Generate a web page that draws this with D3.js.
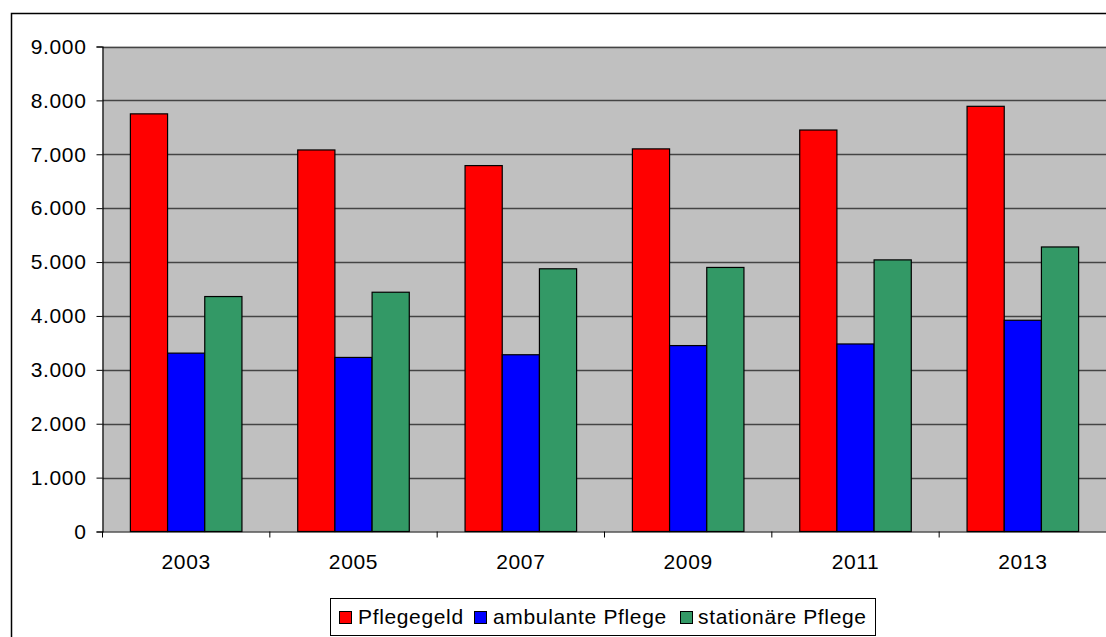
<!DOCTYPE html>
<html>
<head>
<meta charset="utf-8">
<script src="https://cdn.jsdelivr.net/npm/d3@7"></script>
<style>
  html, body { margin: 0; padding: 0; background: #fff; }
  svg { display: block; font-family: "Liberation Sans", Arial, sans-serif; }
</style>
</head>
<body>
<svg id="chart" width="1106" height="637"></svg>
<script>
// Leistungsempfänger nach Leistungsart
const years = ["2003", "2005", "2007", "2009", "2011", "2013"];
const seriesNames = ["Pflegegeld", "ambulante Pflege", "stationäre Pflege"];
const pflegegeld = [7750, 7080, 6790, 7100, 7450, 7890];
const ambulant = [3310, 3230, 3280, 3450, 3480, 3920];
const stationaer = [4360, 4440, 4875, 4900, 5040, 5280];
const seriesColors = ["#ff0000", "#0000ff", "#339966"];
const yTicks = [0, 1000, 2000, 3000, 4000, 5000, 6000, 7000, 8000, 9000];

const seriesValues = [pflegegeld, ambulant, stationaer];
const svg = d3.select("#chart");
const FONT = "Liberation Sans, Arial, sans-serif";
const FS = 21;
const LS = "0.65px";

// outer chart frame
svg.append("rect")
  .attr("x", 11.5).attr("y", 13.5)
  .attr("width", 1110).attr("height", 640)
  .attr("fill", "#fff").attr("stroke", "#000").attr("stroke-width", 1.5);

const plot = { left: 102.5, right: 1106.5, top: 46.5, bottom: 531.5 };

const x = d3.scaleBand().domain(years).range([plot.left, plot.right]).paddingInner(0).paddingOuter(0);
const barW = x.bandwidth() / 4.5; // gap width 150 %
const y = d3.scaleLinear().domain([0, 9000]).range([plot.bottom, plot.top]);

// plot area
svg.append("rect")
  .attr("x", plot.left).attr("y", plot.top)
  .attr("width", plot.right - plot.left).attr("height", plot.bottom - plot.top)
  .attr("fill", "#c0c0c0");

// horizontal gridlines
svg.append("g").selectAll("line").data(yTicks.filter(d => d > 0)).join("line")
  .attr("x1", plot.left).attr("x2", plot.right)
  .attr("y1", d => Math.round(y(d)) + 0.5).attr("y2", d => Math.round(y(d)) + 0.5)
  .attr("stroke", "#444").attr("stroke-width", 1.3);

// bars
const groups = svg.append("g").selectAll("g").data(years).join("g")
  .attr("transform", d => `translate(${x(d) + 0.75 * barW},0)`);

groups.selectAll("rect")
  .data((yr, i) => seriesValues.map((vals, s) => ({ s, v: vals[i] })))
  .join("rect")
  .attr("x", d => d.s * barW)
  .attr("y", d => y(d.v))
  .attr("width", barW)
  .attr("height", d => y(0) - y(d.v))
  .attr("fill", d => seriesColors[d.s])
  .attr("stroke", "#000").attr("stroke-width", 1.2);

// y axis
const yAxis = d3.axisLeft(y).tickValues(yTicks).tickSize(6).tickPadding(10)
  .tickFormat(d => d3.format(",")(d).replace(/,/g, "."));
const gy = svg.append("g").attr("transform", `translate(${plot.left},0)`).call(yAxis);
gy.select(".domain").attr("stroke", "#000").attr("stroke-width", 1.2);
gy.selectAll(".tick line").attr("stroke", "#000");
gy.selectAll(".tick text").attr("font-size", FS).attr("fill", "#000")
  .attr("font-family", FONT).style("letter-spacing", LS);

// x axis
const xAxis = d3.axisBottom(x).tickSize(0).tickPadding(23);
const gx = svg.append("g").attr("transform", `translate(0,${plot.bottom})`).call(xAxis);
gx.select(".domain").attr("stroke", "#000").attr("stroke-width", 1.2);
gx.selectAll(".tick text").attr("font-size", FS).attr("fill", "#000")
  .attr("font-family", FONT).style("letter-spacing", LS);

// category separators on the x axis
svg.append("g").selectAll("line").data(years.concat(["end"])).join("line")
  .attr("x1", (d, i) => plot.left + i * x.bandwidth())
  .attr("x2", (d, i) => plot.left + i * x.bandwidth())
  .attr("y1", plot.bottom).attr("y2", plot.bottom + 6)
  .attr("stroke", "#000");

// legend
const legend = svg.append("g");
legend.append("rect")
  .attr("x", 330.5).attr("y", 598.5).attr("width", 545).attr("height", 37)
  .attr("fill", "#fff").attr("stroke", "#000");
const legendItems = [
  { sx: 339, tx: 358, label: seriesNames[0] },
  { sx: 474, tx: 493, label: seriesNames[1] },
  { sx: 680, tx: 698, label: seriesNames[2] }
];
legendItems.forEach((it, i) => {
  legend.append("rect")
    .attr("x", it.sx + 0.5).attr("y", 611.5).attr("width", 12).attr("height", 12)
    .attr("fill", seriesColors[i]).attr("stroke", "#000");
  legend.append("text")
    .attr("x", it.tx).attr("y", 624)
    .attr("font-size", FS).attr("fill", "#000")
    .style("letter-spacing", LS)
    .text(it.label);
});
</script>
</body>
</html>
